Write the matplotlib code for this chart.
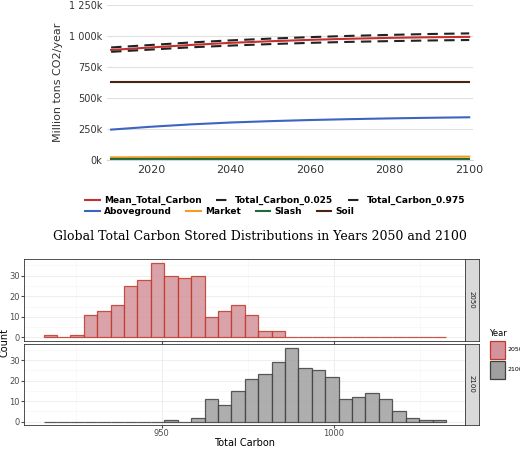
import matplotlib.pyplot as plt
import numpy as np
from matplotlib.ticker import FuncFormatter
from matplotlib.patches import Rectangle

years = [2010, 2020, 2030, 2040, 2050, 2060, 2070, 2080, 2090, 2100]
mean_total = [885, 905, 925, 942, 955, 966, 975, 982, 987, 990]
total_025 = [870, 888, 906, 920, 932, 942, 950, 956, 961, 965]
total_975 = [905, 925, 945, 962, 976, 988, 998, 1006, 1013, 1018]
aboveground = [245, 268, 287, 302, 313, 322, 329, 335, 340, 344]
market = [22, 23, 24, 25, 25, 26, 26, 27, 27, 28]
slash = [5, 5, 5, 5, 5, 5, 5, 5, 5, 5]
soil = [625, 625, 625, 625, 625, 625, 625, 625, 625, 625]

bin_lo, bin_hi, nbins = 915.6, 1032.6, 30
counts_2050 = [1, 0, 1, 11, 13, 16, 25, 28, 36, 30, 29, 30, 10, 13, 16, 11, 3, 3] + [0] * 12
counts_2100 = [0] * 9 + [1, 0, 2, 11, 8, 15, 21, 23, 29, 36, 26, 25, 22, 11, 12, 14, 11, 5, 2, 1, 1]

fig = plt.figure(figsize=(5.2, 4.51), dpi=100)

# top line chart
ax = fig.add_axes([0.206, 0.645, 0.704, 0.345])
k = lambda v: np.array(v) * 1000
l1, = ax.plot(years, k(mean_total), color='#c62f2f', lw=1.5, label='Mean_Total_Carbon')
l2, = ax.plot(years, k(total_025), color='#222222', lw=1.5, ls=(0, (5, 3)), label='Total_Carbon_0.025')
l3, = ax.plot(years, k(total_975), color='#222222', lw=1.5, ls=(0, (5, 3)), label='Total_Carbon_0.975')
l4, = ax.plot(years, k(aboveground), color='#3d64c0', lw=1.5, label='Aboveground')
l5, = ax.plot(years, k(market), color='#f59a23', lw=1.5, label='Market')
l6, = ax.plot(years, k(slash), color='#1f6b35', lw=1.5, label='Slash')
l7, = ax.plot(years, k(soil), color='#4a2410', lw=1.5, label='Soil')
ax.set_xlim(2009, 2101)
ax.set_ylim(0, 1250000)
ax.set_yticks([0, 250000, 500000, 750000, 1000000, 1250000])
ax.yaxis.set_major_formatter(FuncFormatter(lambda v, p: f"{int(v/1000):,}k".replace(',', ' ')))
ax.set_xticks([2020, 2040, 2060, 2080, 2100])
ax.grid(axis='y', color='#e0e0e0', lw=0.8)
for s in ['top', 'right', 'left']:
    ax.spines[s].set_visible(False)
ax.spines['bottom'].set_color('#ccd6eb')
ax.tick_params(axis='y', length=0, labelsize=7, colors='#333333')
ax.tick_params(axis='x', length=0, labelsize=8, colors='#333333')
ax.set_ylabel('Million tons CO2/year', fontsize=8, color='#333333')
lp = dict(loc='upper left', frameon=False, prop={'weight': 'bold', 'size': 6.5},
          handlelength=1.6, columnspacing=1.6, borderpad=0, handletextpad=0.5)
lg1 = fig.legend([l1, l2, l3], [h.get_label() for h in [l1, l2, l3]], ncol=3,
                 bbox_to_anchor=(0.155, 0.575), **lp)
fig.legend([l4, l5, l6, l7], [h.get_label() for h in [l4, l5, l6, l7]], ncol=4,
           bbox_to_anchor=(0.155, 0.55), **lp)

fig.text(0.5, 0.475, 'Global Total Carbon Stored Distributions in Years 2050 and 2100',
         ha='center', va='center', family='DejaVu Serif', fontsize=9)

edges = np.linspace(bin_lo, bin_hi, nbins + 1)
centers = (edges[:-1] + edges[1:]) / 2
panels = [(counts_2050, '#d4939a', '#c0392b', '2050', [0.046, 0.245, 0.848, 0.18]),
          (counts_2100, '#a0a0a0', '#404040', '2100', [0.046, 0.058, 0.848, 0.18])]
for cnt, fc, ec, yr, rect in panels:
    h = fig.add_axes(rect)
    h.bar(centers, cnt, width=edges[1] - edges[0], color=fc, edgecolor=ec, lw=0.9, alpha=0.85)
    h.set_xlim(909.9, 1038.1)
    h.set_ylim(-1.5, 38)
    h.set_yticks([0, 10, 20, 30])
    h.set_xticks([950, 1000])
    h.set_xticks([925, 975, 1025], minor=True)
    h.set_yticks([5, 15, 25, 35], minor=True)
    h.grid(which='major', color='#ebebeb', lw=0.6)
    h.grid(which='minor', color='#f4f4f4', lw=0.4)
    h.set_axisbelow(True)
    for s in h.spines.values():
        s.set_color('#333333')
        s.set_linewidth(0.6)
    h.tick_params(labelsize=6, colors='#4d4d4d', length=2, pad=1)
    h.tick_params(which='minor', length=0)
    if yr == '2050':
        h.tick_params(labelbottom=False)
    else:
        h.set_xlabel('Total Carbon', fontsize=7, labelpad=0)
    x0, y0, w, hh = rect
    s = fig.add_axes([x0 + w, y0, 0.027, hh])
    s.set_facecolor('#d9d9d9')
    s.set_xticks([]); s.set_yticks([])
    for sp in s.spines.values():
        sp.set_color('#333333'); sp.set_linewidth(0.6)
    s.text(0.5, 0.5, yr, rotation=-90, ha='center', va='center', fontsize=5, color='#1a1a1a',
           transform=s.transAxes)

fig.text(0.008, 0.24, 'Count', rotation=90, ha='center', va='center', fontsize=7)

# legend for histogram
fig.text(0.94, 0.255, 'Year', fontsize=6)
for i, (fc, ec, yr) in enumerate([('#d4939a', '#c0392b', '2050'), ('#a0a0a0', '#404040', '2100')]):
    yb = 0.205 - i * 0.045
    fig.patches.append(Rectangle((0.942, yb), 0.03, 0.04, transform=fig.transFigure,
                                 facecolor=fc, edgecolor=ec, lw=0.9))
    fig.text(0.976, yb + 0.02, yr, fontsize=4.5, va='center')

fig.savefig('out.png', dpi=100)
